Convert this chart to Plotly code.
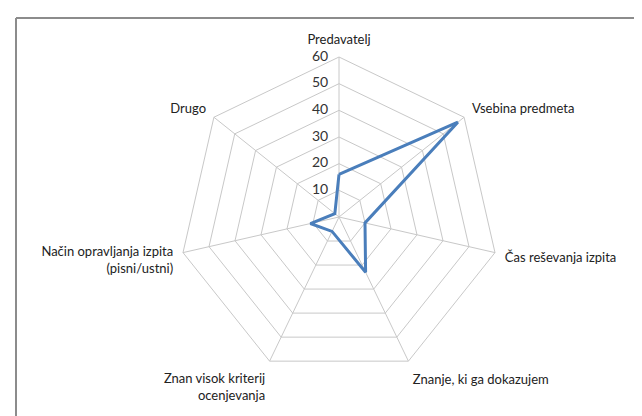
import plotly.graph_objects as go

categories = [
    "Predavatelj",
    "Vsebina predmeta",
    "Čas reševanja izpita",
    "Znanje, ki ga dokazujem",
    "Znan visok kriterij<br>ocenjevanja",
    "Način opravljanja izpita<br>(pisni/ustni)",
    "Drugo",
]
values = [16, 57, 10, 23, 6, 11, 2]
radial_ticks = [0, 10, 20, 30, 40, 50, 60]

W, H = 642, 416
cx, cy, R = 331, 209, 160

fig = go.Figure()
fig.add_trace(go.Scatterpolar(
    r=values + values[:1],
    theta=categories + categories[:1],
    mode="lines",
    line=dict(color="#4a7ebb", width=3),
    showlegend=False,
    hoverinfo="skip",
))
# radial tick labels, placed to the left of the top axis
fig.add_trace(go.Scatterpolar(
    r=radial_ticks,
    theta=[categories[0]] * len(radial_ticks),
    mode="text",
    text=["%d\u00a0\u00a0\u00a0" % t for t in radial_ticks],
    textposition="middle left",
    textfont=dict(size=14, color="#333"),
    showlegend=False,
    hoverinfo="skip",
    cliponaxis=False,
))

fig.update_layout(
    width=W, height=H,
    margin=dict(l=0, r=0, t=0, b=0),
    paper_bgcolor="white",
    font=dict(family="Lato, Open Sans, sans-serif", size=13, color="#222"),
    polar=dict(
        domain=dict(x=[(cx - R) / W, (cx + R) / W], y=[1 - (cy + R) / H, 1 - (cy - R) / H]),
        bgcolor="white",
        gridshape="linear",
        angularaxis=dict(
            rotation=90, direction="clockwise",
            gridcolor="#c8c8c8", linecolor="#c8c8c8", linewidth=1,
            showline=True, ticks="outside", ticklen=7, tickcolor="rgba(0,0,0,0)",
            tickfont=dict(size=13),
        ),
        radialaxis=dict(
            range=[0, 60], tickvals=radial_ticks, showticklabels=False,
            angle=90, gridcolor="#c8c8c8", showline=False, ticks="",
        ),
    ),
    shapes=[
        dict(type="line", xref="paper", yref="paper", x0=8 / W, x1=1.02, y0=1 - 10 / H, y1=1 - 10 / H,
             line=dict(color="#8c8c8c", width=2)),
        dict(type="line", xref="paper", yref="paper", x0=8 / W, x1=8 / W, y0=-0.02, y1=1 - 10 / H,
             line=dict(color="#8c8c8c", width=2)),
    ],
)

fig.write_html("out.html")
